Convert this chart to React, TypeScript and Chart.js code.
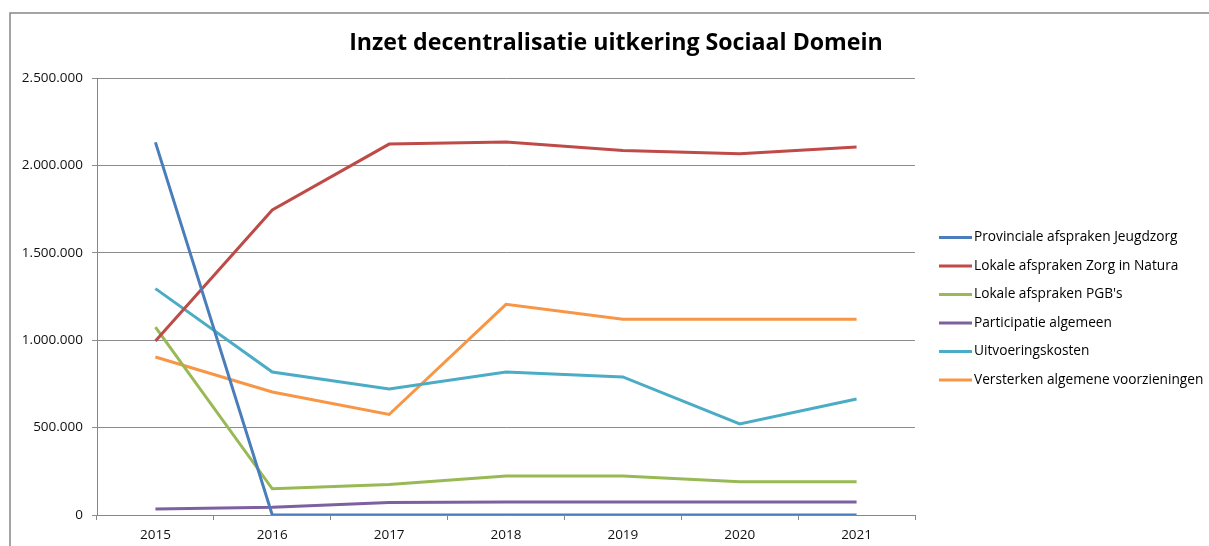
import React, { useEffect, useRef } from "react";
import { Chart, registerables } from "chart.js";

Chart.register(...registerables);

const years = ["2015", "2016", "2017", "2018", "2019", "2020", "2021"];
const seriesNames = [
  "Provinciale afspraken Jeugdzorg",
  "Lokale afspraken Zorg in Natura",
  "Lokale afspraken PGB's",
  "Participatie algemeen",
  "Uitvoeringskosten",
  "Versterken algemene voorzieningen",
];
const provinciale = [2132000, 0, 0, 0, 0, 0, 0];
const zorgInNatura = [995000, 1745000, 2122000, 2134000, 2085000, 2066000, 2105000];
const pgb = [1075000, 150000, 175000, 223000, 223000, 190000, 190000];
const participatie = [34000, 44000, 72000, 74000, 74000, 74000, 74000];
const uitvoering = [1295000, 818000, 721000, 818000, 790000, 521000, 664000];
const versterken = [904000, 704000, 575000, 1205000, 1120000, 1120000, 1120000];
const seriesColors = ["#4A7EBB", "#BE4B48", "#98B954", "#7D60A0", "#4BACC6", "#F79646"];
const yTicks = [0, 500000, 1000000, 1500000, 2000000, 2500000];
const titleText = "Inzet decentralisatie uitkering Sociaal Domein";

const fmt = (v: number) =>
  String(Math.round(v)).replace(/\B(?=(\d{3})+(?!\d))/g, ".");

const FONT = "'Open Sans', 'Noto Sans', sans-serif";

const decor = {
  id: "decor",
  beforeDraw(chart: any) {
    const ctx = chart.ctx;
    ctx.save();
    ctx.strokeStyle = "#878787";
    ctx.lineWidth = 1.5;
    ctx.strokeRect(10, 13, 1400, 800);
    ctx.restore();
  },
  afterDraw(chart: any) {
    const ctx = chart.ctx;
    ctx.save();
    ctx.fillStyle = "#000";
    ctx.font = "bold 24px " + FONT;
    const w = ctx.measureText(titleText).width;
    const size = (24 * 534) / w;
    ctx.font = "bold " + size.toFixed(2) + "px " + FONT;
    ctx.textAlign = "center";
    ctx.textBaseline = "alphabetic";
    ctx.fillText(titleText, 616, 50);
    // legend
    ctx.font = "13.7px " + FONT;
    ctx.textAlign = "left";
    ctx.textBaseline = "middle";
    chart.data.datasets.forEach((ds: any, i: number) => {
      const y = 237.5 + i * 28.5;
      ctx.strokeStyle = ds.borderColor;
      ctx.lineWidth = 3;
      ctx.beginPath();
      ctx.moveTo(939, y);
      ctx.lineTo(972, y);
      ctx.stroke();
      ctx.fillStyle = "#000";
      ctx.fillText(ds.label, 974, y);
    });
    ctx.restore();
  },
};

export default function App() {
  const ref = useRef<HTMLCanvasElement>(null);
  useEffect(() => {
    const values = [provinciale, zorgInNatura, pgb, participatie, uitvoering, versterken];
    const chart = new Chart(ref.current!, {
      type: "line",
      data: {
        labels: years,
        datasets: values.map((d, i) => ({
          label: seriesNames[i],
          data: d,
          borderColor: seriesColors[i],
          backgroundColor: seriesColors[i],
          borderWidth: 3,
          pointRadius: 0,
          tension: 0,
          fill: false,
        })),
      },
      options: {
        animation: false,
        responsive: false,
        layout: { padding: { left: 0, top: 78, right: 294, bottom: 0 } },
        plugins: { legend: { display: false }, title: { display: false }, tooltip: { enabled: false } },
        scales: {
          x: {
            offset: true,
            grid: { display: true, drawOnChartArea: false, drawTicks: true, tickLength: 5, offset: true, color: "#878787" },
            border: { display: true, color: "#878787" },
            ticks: { color: "#111", font: { family: FONT, size: 13.5 }, padding: 7, maxRotation: 0 },
            afterFit(scale: any) { scale.height = 31; },
          },
          y: {
            min: 0,
            max: 2500000,
            afterBuildTicks(scale: any) { scale.ticks = yTicks.map((v) => ({ value: v })); },
            grid: { color: "#8c8c8c", tickLength: 5, drawTicks: true },
            border: { display: true, color: "#878787" },
            ticks: { color: "#111", font: { family: FONT, size: 13.5 }, padding: 9, callback: (v: any) => fmt(Number(v)) },
            afterFit(scale: any) { scale.width = 97; },
          },
        },
      },
      plugins: [decor],
    });
    return () => chart.destroy();
  }, []);
  return (
    <div style={{ position: "fixed", left: 0, top: 0, width: 1209, height: 546, background: "#fff" }}>
      <canvas ref={ref} width={1209} height={546} style={{ display: "block" }} />
    </div>
  );
}
